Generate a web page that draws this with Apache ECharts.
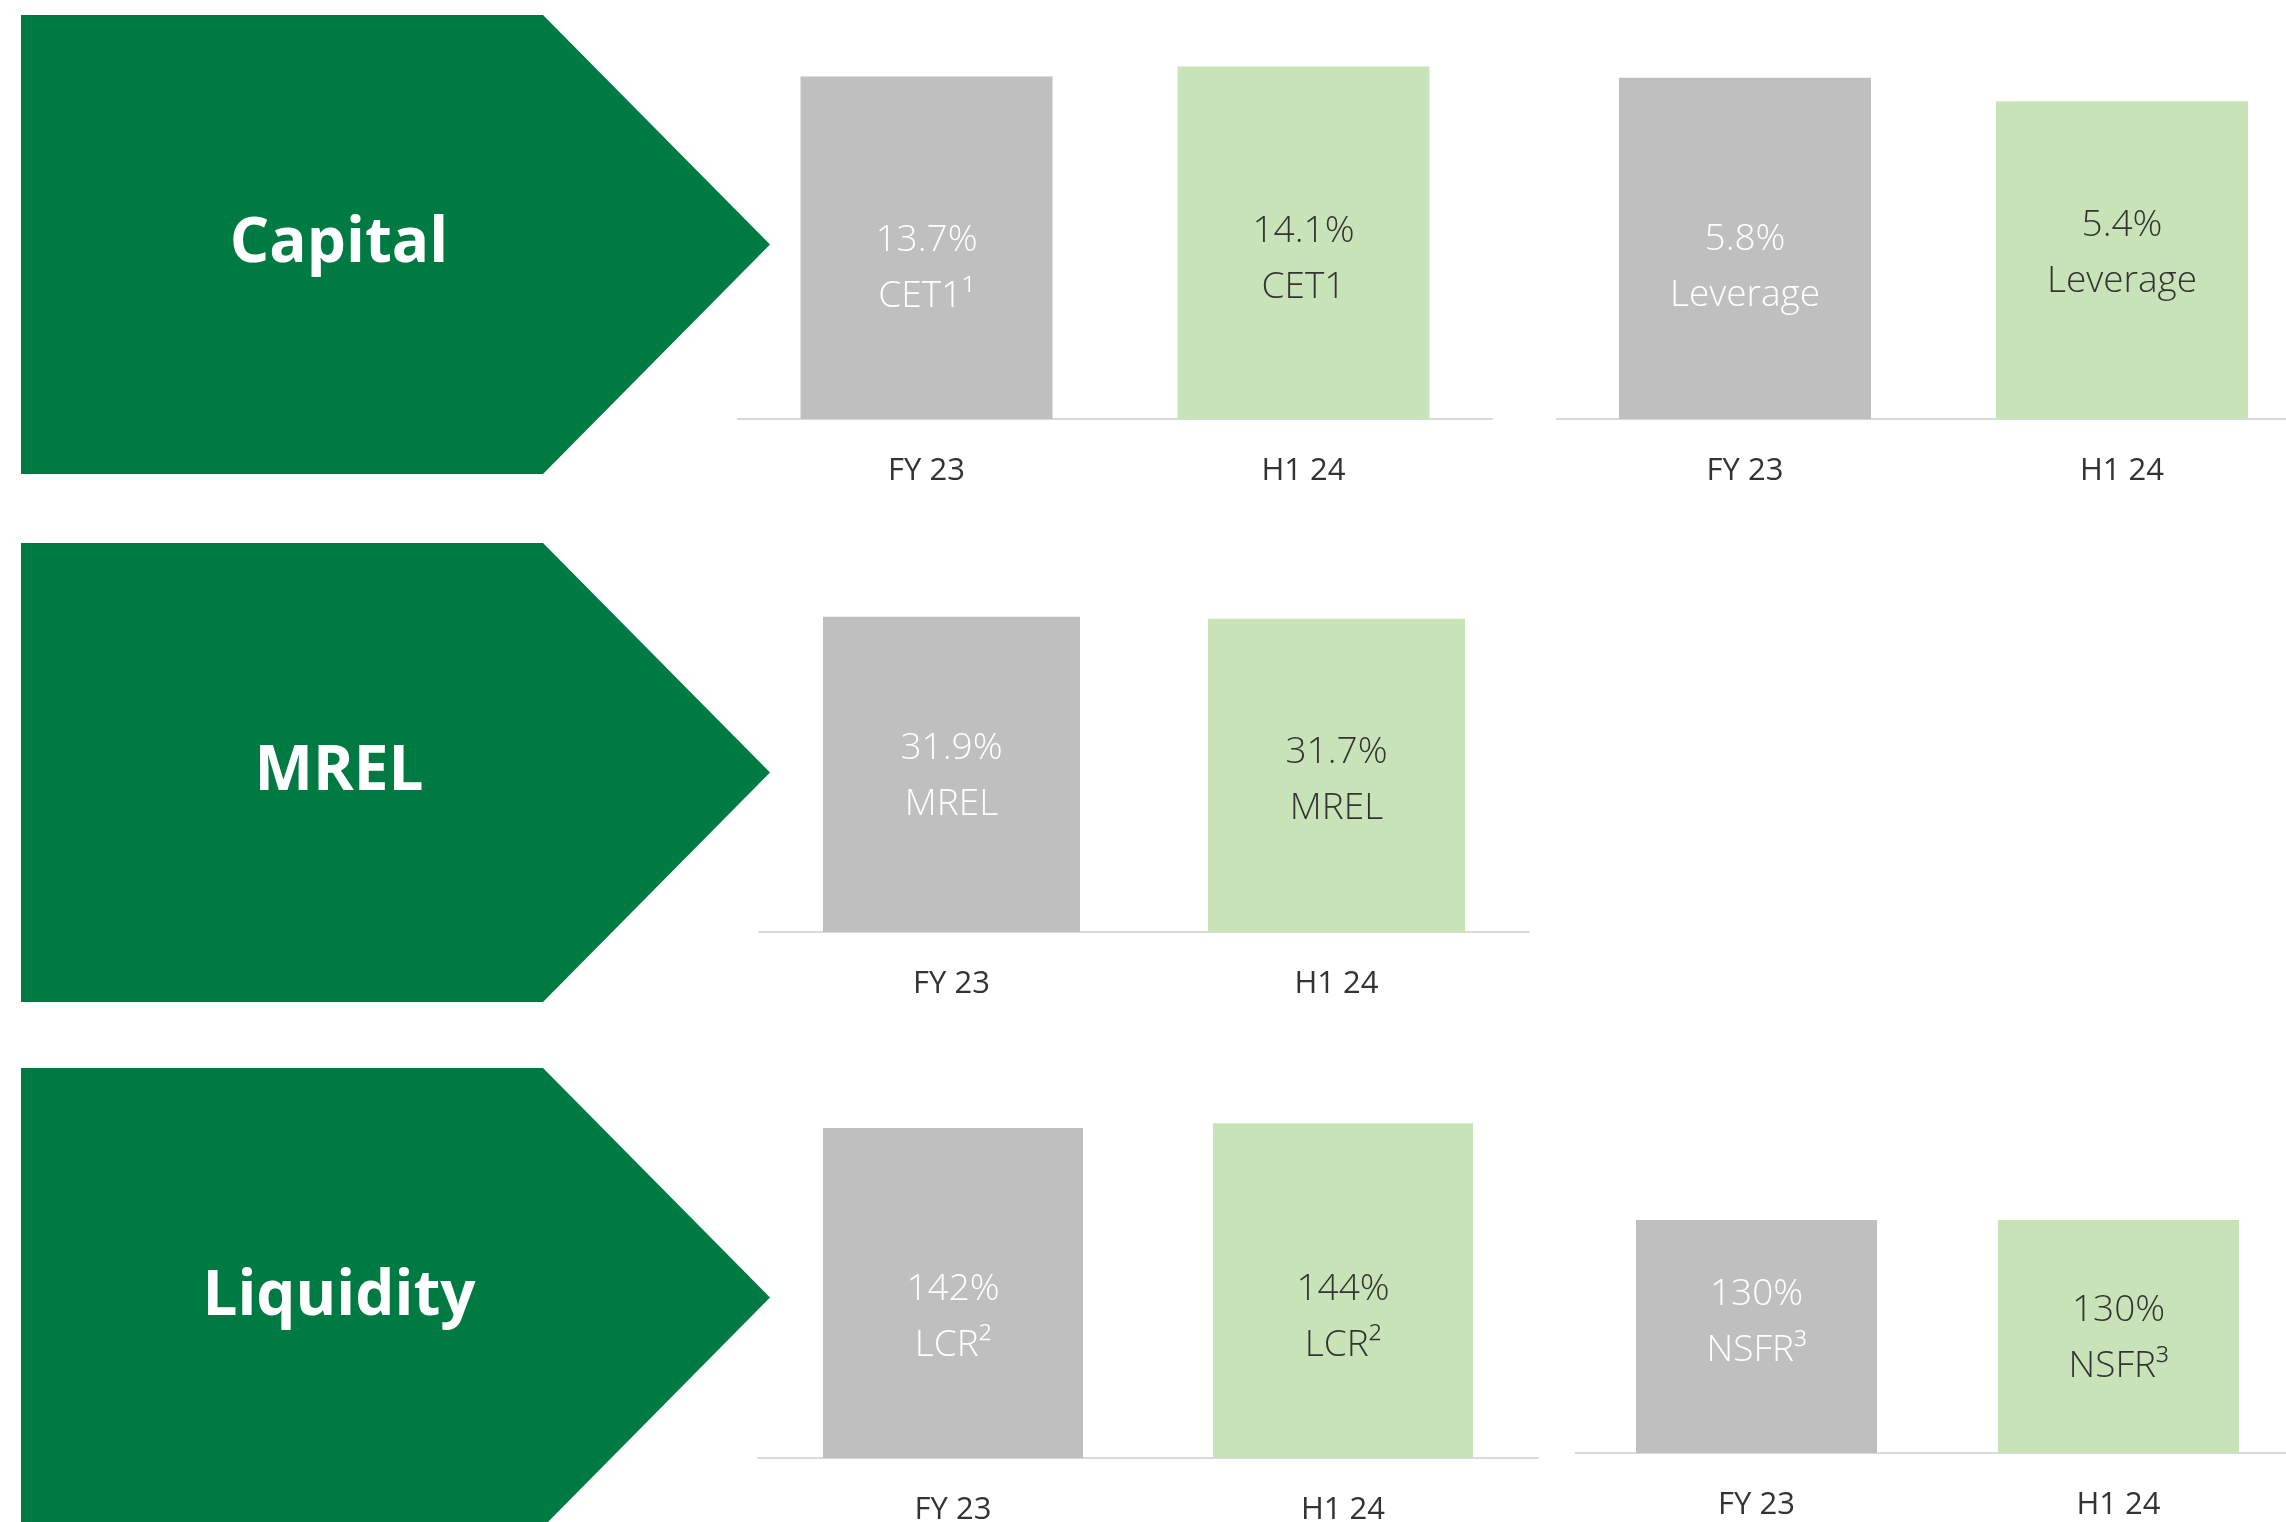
<!DOCTYPE html>
<html>
<head>
<meta charset="utf-8">
<title>Capital, MREL and Liquidity</title>
<script src="https://cdn.jsdelivr.net/npm/echarts@6/dist/echarts.min.js"></script>
<style>
  html, body { margin: 0; padding: 0; background: #ffffff; }
  #chart { width: 2286px; height: 1522px; }
</style>
</head>
<body>
<div id="chart"></div>
<script>
// Reporting periods shared by every panel
const periods = ['FY 23', 'H1 24'];

// Section headings shown in the green arrows
const sections = ['Capital', 'MREL', 'Liquidity'];

// Ratio values (%) per panel
const cet1Values = [13.7, 14.1];
const leverageValues = [5.8, 5.4];
const mrelValues = [31.9, 31.7];
const lcrValues = [142, 144];
const nsfrValues = [130, 130];

// Metric names printed inside each bar
const cet1Names = ['CET1\u00B9', 'CET1'];
const leverageNames = ['Leverage', 'Leverage'];
const mrelNames = ['MREL', 'MREL'];
const lcrNames = ['LCR\u00B2', 'LCR\u00B2'];
const nsfrNames = ['NSFR\u00B3', 'NSFR\u00B3'];

const FONT = '"Open Sans", "Noto Sans", sans-serif';
const ARROW_GREEN = '#007A43';
const barColors = ['#BFBFBF', '#C8E3B7'];
const labelColors = ['#FFFFFF', '#333333'];

// Panel layout: grid box, hidden value-axis max, bar width and per-bar label nudge
const panels = [
  { values: cet1Values, names: cet1Names, decimals: 1,
    grid: { left: 738, width: 754, top: 19, height: 400 }, max: 16, barWidth: 252, dy: [21, 17] },
  { values: leverageValues, names: leverageNames, decimals: 1,
    grid: { left: 1556.5, width: 754, top: 19, height: 400 }, max: 6.8, barWidth: 252, dy: [19, -7] },
  { values: mrelValues, names: mrelNames, decimals: 1,
    grid: { left: 759, width: 770, top: 598, height: 334 }, max: 33.8, barWidth: 257, dy: [2, 5] },
  { values: lcrValues, names: lcrNames, decimals: 0,
    grid: { left: 758, width: 780, top: 1100, height: 358 }, max: 154, barWidth: 260, dy: [25, 27] },
  { values: nsfrValues, names: nsfrNames, decimals: 0,
    grid: { left: 1575.5, width: 724, top: 1100, height: 353 }, max: 197, barWidth: 241, dy: [-14, 2] }
];

// Arrow banners, one per section row
const arrowTops = [15, 543, 1068];
const ARROW_H = 459, ARROW_L = 21, ARROW_SHOULDER = 543, ARROW_TIP = 770;

const graphics = [];
sections.forEach((title, i) => {
  const t = arrowTops[i];
  graphics.push({
    type: 'polygon',
    silent: true,
    z: 1,
    shape: { points: [
      [ARROW_L, t], [ARROW_SHOULDER, t], [ARROW_TIP, t + ARROW_H / 2],
      [ARROW_SHOULDER, t + ARROW_H], [ARROW_L, t + ARROW_H]
    ] },
    style: { fill: ARROW_GREEN }
  });
  graphics.push({
    type: 'text',
    silent: true,
    z: 2,
    x: 339,
    y: t + ARROW_H / 2,
    style: {
      text: title,
      fill: '#FFFFFF',
      font: '700 62px ' + FONT,
      align: 'center',
      verticalAlign: 'middle'
    }
  });
});

const option = {
  backgroundColor: '#FFFFFF',
  animation: false,
  graphic: graphics,
  grid: panels.map(p => Object.assign({ containLabel: false, outerBoundsMode: 'none' }, p.grid)),
  xAxis: panels.map((p, i) => ({
    type: 'category',
    gridIndex: i,
    data: periods,
    axisLine: { show: true, lineStyle: { color: '#D9D9D9', width: 2 } },
    axisTick: { show: false },
    axisLabel: { margin: 37, fontSize: 31, color: '#333333', fontFamily: FONT }
  })),
  yAxis: panels.map((p, i) => ({
    type: 'value',
    gridIndex: i,
    min: 0,
    max: p.max,
    show: false,
    splitLine: { show: false }
  })),
  series: panels.map((p, i) => ({
    type: 'bar',
    xAxisIndex: i,
    yAxisIndex: i,
    barWidth: p.barWidth,
    data: p.values.map((v, j) => ({
      value: v,
      itemStyle: { color: barColors[j] },
      label: { color: labelColors[j], offset: [0, p.dy[j]] }
    })),
    label: {
      show: true,
      position: 'inside',
      fontFamily: FONT,
      fontWeight: 300,
      fontSize: 37,
      lineHeight: 56,
      align: 'center',
      formatter: (q) => q.value.toFixed(p.decimals) + '%\n' + p.names[q.dataIndex]
    }
  }))
};

const chart = echarts.init(document.getElementById('chart'), null, { renderer: 'canvas' });
chart.setOption(option);
</script>
</body>
</html>
